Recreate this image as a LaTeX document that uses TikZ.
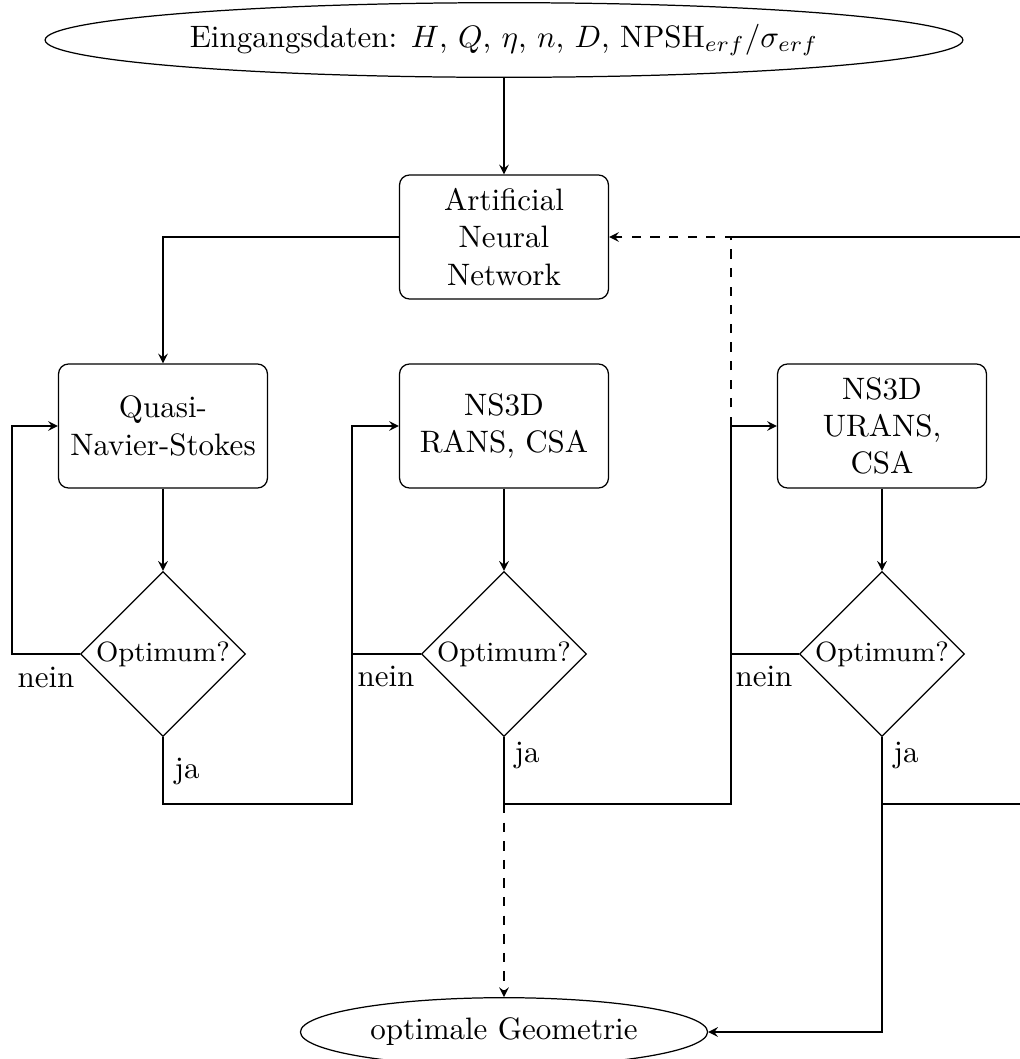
\documentclass[tikz,border=0pt]{standalone}
\usetikzlibrary{shapes.geometric,arrows}
\begin{document}
\begin{tikzpicture}[x=0.3226pt,y=-0.3226pt,
  boxnode/.style={draw,rectangle,rounded corners=3.2pt,minimum width=67.4pt,minimum height=40pt,align=center,inner sep=2pt},
  dia/.style={draw,diamond,aspect=1,inner sep=0pt,minimum width=53.3pt,minimum height=53.3pt,font=\small},
  ell/.style={draw,ellipse},
  lbl/.style={inner sep=0pt,anchor=base west},
  arr/.style={-stealth},
  darr/.style={-stealth,dashed}]
\useasboundingbox (0,0) rectangle (1020,1059);
\node[ell] (top) at (504,40) {Eingangsdaten: $H$, $Q$, $\eta$, $n$, $D$, NPSH$_{erf}/\sigma_{erf}$};
\node[boxnode] (ann) at (504,237) {Artificial\\Neural\\Network};
\node[boxnode] (quasi) at (163,426) {Quasi-\\Navier-Stokes};
\node[boxnode] (rans) at (504,426) {NS3D\\RANS, CSA};
\node[boxnode] (urans) at (882,426) {NS3D\\URANS,\\CSA};
\node[dia] (d1) at (163,654) {Optimum?};
\node[dia] (d2) at (504,654) {Optimum?};
\node[dia] (d3) at (882,654) {Optimum?};
\node[ell] (bot) at (504,1032) {optimale Geometrie};
\coordinate (l1) at (12,654);
\coordinate (c1) at (352,804);
\coordinate (c2) at (731,804);
\coordinate (r1) at (1022,237);
\coordinate (r2) at (1022,804);
% labels
\node[lbl] (n1) at (17,687) {nein};
\node[lbl] (n2) at (357,686) {nein};
\node[lbl] (n3) at (735,686) {nein};
\node[lbl] (j1) at (174,778) {ja};
\node[lbl] (j2) at (514,762) {ja};
\node[lbl] (j3) at (893,762) {ja};
% connectors
\draw[arr] (top.south -| ann.north) -- (ann.north);
\draw[arr] (ann.west) -| (quasi.north);
\draw[arr] (quasi) -- (d1);
\draw[arr] (d1.west) -- (l1) |- (quasi.west);
\draw[arr] (d1.south) |- (c1) |- (rans.west);
\draw (d2.west) -- (d2.west -| c1);
\draw[arr] (rans) -- (d2);
\draw[arr] (d2.south) |- (c2) |- (urans.west);
\draw (d3.west) -- (d3.west -| c2);
\draw[arr] (urans) -- (d3);
\draw[darr] (urans.west -| c2) -- (ann.east -| c2) -- (ann.east);
\draw (r1) -- (ann.east -| c2);
\draw[darr] (d2.south |- c2) -- (bot.north);
\draw[arr] (d3.south) |- (bot.east);
\draw (d3.south |- c2) -- (r2);
\end{tikzpicture}
\end{document}
